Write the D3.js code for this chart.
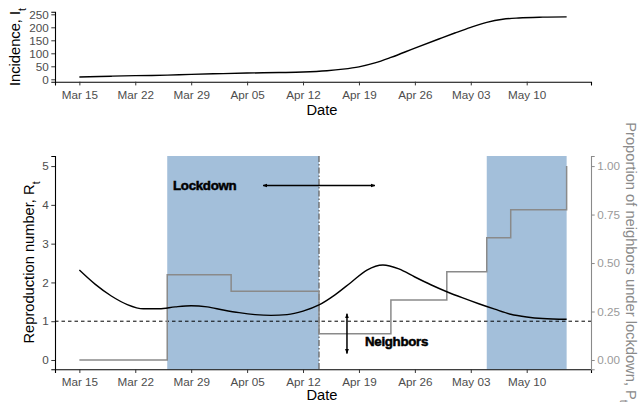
<!DOCTYPE html>
<html><head><meta charset="utf-8">
<script src="https://cdn.jsdelivr.net/npm/d3@7"></script>
<style>body{margin:0;background:#fff}svg{display:block;font-family:"Liberation Sans",Arial,sans-serif}</style>
</head><body>
<svg id="c" width="639" height="402"></svg>
<script>
// ---- data ----
const incDates = ["2020-03-15","2020-03-19","2020-03-22","2020-03-26","2020-03-29","2020-04-02","2020-04-05","2020-04-09","2020-04-12","2020-04-15","2020-04-17","2020-04-19","2020-04-21","2020-04-23","2020-04-26","2020-04-29","2020-05-01","2020-05-03","2020-05-05","2020-05-07","2020-05-09","2020-05-12","2020-05-15"];
const incValues = [9,12,14,16,19,22,24,26,28,33,39,48,63,84,120,155,178,200,219,231,236,239,240];
const rDates = ["2020-03-15","2020-03-17","2020-03-19","2020-03-21","2020-03-23","2020-03-25","2020-03-27","2020-03-29","2020-03-31","2020-04-02","2020-04-04","2020-04-06","2020-04-08","2020-04-10","2020-04-12","2020-04-14","2020-04-16","2020-04-18","2020-04-20","2020-04-22","2020-04-24","2020-04-26","2020-04-28","2020-04-30","2020-05-02","2020-05-04","2020-05-06","2020-05-08","2020-05-10","2020-05-12","2020-05-15"];
const rValues = [2.32,1.95,1.65,1.43,1.32,1.32,1.37,1.40,1.37,1.29,1.22,1.17,1.15,1.17,1.26,1.42,1.68,2.0,2.32,2.45,2.35,2.14,1.94,1.76,1.60,1.45,1.31,1.18,1.11,1.07,1.05];
const propDates = ["2020-03-15","2020-03-26","2020-04-03","2020-04-14","2020-04-23","2020-04-30","2020-05-05","2020-05-08","2020-05-15"];
const propValues = [0,0.44,0.355,0.135,0.31,0.455,0.63,0.775,1.0];
const lockStart = ["2020-03-26","2020-05-05"];
const lockEnd = ["2020-04-14","2020-05-15"];
const vlineDate = "2020-04-14";
const tickDates = ["2020-03-15","2020-03-22","2020-03-29","2020-04-05","2020-04-12","2020-04-19","2020-04-26","2020-05-03","2020-05-10"];
const incTicks = [0,50,100,150,200,250];
const rTicks = [0,1,2,3,4,5];
const pTicks = [0,0.25,0.5,0.75,1.0];

const P = d3.utcParse("%Y-%m-%d");
const svg = d3.select("#c");
const blue = "#a3bfda";
const fmt = d3.utcFormat("%b %d");

const d0 = P("2020-03-15"), d1 = P("2020-05-15");
const pad = (d1 - d0) * 0.05;
const x = d3.scaleUtc().domain([new Date(+d0 - pad), new Date(+d1 + pad)]).range([55, 591]);

// ---------- top panel ----------
const yI = d3.scaleLinear().domain([-9.2, 260]).range([81.7, 11.7]);
const topG = svg.append("g");
const incData = incDates.map((d,i)=>({d:P(d),v:incValues[i]}));
topG.append("path").datum(incData)
  .attr("fill","none").attr("stroke","#000").attr("stroke-width",1.4)
  .attr("d", d3.line().x(d=>x(d.d)).y(d=>yI(d.v)).curve(d3.curveMonotoneX));

function styleAxis(g, tickColor, textColor, lineColor){
  g.select(".domain").attr("stroke", lineColor).attr("stroke-width",1.1);
  g.selectAll(".tick line").attr("stroke", tickColor).attr("stroke-width",1);
  g.selectAll(".tick text").attr("fill", textColor).style("font-size","11.7px").style("font-family","'Liberation Sans',Arial,sans-serif");
}
const xaT = topG.append("g").attr("transform","translate(0,81.7)")
  .call(d3.axisBottom(x).tickValues(tickDates.map(P)).tickFormat(fmt).tickSizeOuter(0).tickSize(3.7).tickPadding(5));
styleAxis(xaT,"#333","#4d4d4d","#000");
const yaT = topG.append("g").attr("transform","translate(55,0)")
  .call(d3.axisLeft(yI).tickValues(incTicks).tickSizeOuter(0).tickSize(3.7).tickPadding(2.5));
styleAxis(yaT,"#333","#4d4d4d","#000");

function title(g, x0, y0, rot, main, sub, color, anchor){
  const t = g.append("text").attr("transform",`translate(${x0},${y0}) rotate(${rot})`)
    .attr("text-anchor", anchor||"middle").attr("fill", color||"#000").style("font-size","14.7px");
  t.append("tspan").text(main);
  if (sub) t.append("tspan").attr("baseline-shift","sub").style("font-size","10.5px").text(sub);
  return t;
}
title(topG, 322, 114.5, 0, "Date");
title(topG, 20, 47, -90, "Incidence, I", "t");

// ---------- bottom panel ----------
const yR = d3.scaleLinear().domain([-0.24, 5.26]).range([369.3, 156]);
const yP = d3.scaleLinear().domain([-0.048, 1.052]).range([369.3, 156]);
const bot = svg.append("g");
lockStart.forEach((s,i)=>{
  bot.append("rect").attr("x", x(P(s))).attr("y",156)
    .attr("width", x(P(lockEnd[i])) - x(P(s))).attr("height", 369.3-156).attr("fill", blue);
});
// vertical dash-dot line
bot.append("line").attr("x1",x(P(vlineDate))).attr("x2",x(P(vlineDate))).attr("y1",156).attr("y2",369.3)
  .attr("stroke","#666").attr("stroke-width",1.3).attr("stroke-dasharray","6,2,1.5,2");
// R=1 line
bot.append("line").attr("x1",55).attr("x2",591).attr("y1",yR(1)).attr("y2",yR(1))
  .attr("stroke","#000").attr("stroke-width",1).attr("stroke-dasharray","3.5,3");
// proportion step
const propData = propDates.map((d,i)=>({d:P(d),v:propValues[i]}));
bot.append("path").datum(propData).attr("fill","none").attr("stroke","#8a8a8a").attr("stroke-width",1.5)
  .attr("d", d3.line().x(d=>x(d.d)).y(d=>yP(d.v)).curve(d3.curveStepAfter));
// R curve
const rData = rDates.map((d,i)=>({d:P(d),v:rValues[i]}));
bot.append("path").datum(rData).attr("fill","none").attr("stroke","#000").attr("stroke-width",1.4)
  .attr("d", d3.line().x(d=>x(d.d)).y(d=>yR(d.v)).curve(d3.curveMonotoneX));

// axes
const xaB = bot.append("g").attr("transform","translate(0,369.3)")
  .call(d3.axisBottom(x).tickValues(tickDates.map(P)).tickFormat(fmt).tickSizeOuter(0).tickSize(3.7).tickPadding(5));
styleAxis(xaB,"#333","#4d4d4d","#000");
const yaB = bot.append("g").attr("transform","translate(55,0)")
  .call(d3.axisLeft(yR).tickValues(rTicks).tickFormat(d3.format("d")).tickSizeOuter(0).tickSize(3.7).tickPadding(2.5));
styleAxis(yaB,"#333","#4d4d4d","#000");
const yaP = bot.append("g").attr("transform","translate(591,0)")
  .call(d3.axisRight(yP).tickValues(pTicks).tickFormat(d3.format(".2f")).tickSizeOuter(0).tickSize(3.7).tickPadding(2.5));
styleAxis(yaP,"#8a8a8a","#9a9a9a","#8a8a8a");

title(bot, 322, 399.5, 0, "Date");
title(bot, 34, 262.5, -90, "Reproduction number, R", "t");
title(bot, 626, 262.5, 90, "Proportion of neighbors under lockdown, P", "t", "#8a8a8a");

// annotations
const defs = svg.append("defs");
defs.append("marker").attr("id","ah").attr("viewBox","0 0 10 10").attr("refX",9).attr("refY",5)
  .attr("markerWidth",3.2).attr("markerHeight",3.2).attr("orient","auto-start-reverse")
  .append("path").attr("d","M0,1 L10,5 L0,9 z").attr("fill","#000");
const lockArrow = {from:"2020-04-07", to:"2020-04-21", r:4.5};
bot.append("line").attr("x1",x(P(lockArrow.from))).attr("x2",x(P(lockArrow.to)))
  .attr("y1",yR(lockArrow.r)).attr("y2",yR(lockArrow.r))
  .attr("stroke","#000").attr("stroke-width",1.5).attr("marker-start","url(#ah)").attr("marker-end","url(#ah)");
const nbArrow = {d:"2020-04-17", from:0.17, to:1.19};
const nbX = x(P(nbArrow.d)) + 4;
bot.append("line").attr("x1",nbX).attr("x2",nbX).attr("y1",yR(nbArrow.from)).attr("y2",yR(nbArrow.to))
  .attr("stroke","#000").attr("stroke-width",1.5).attr("marker-start","url(#ah)").attr("marker-end","url(#ah)");
bot.append("text").attr("x",173).attr("y",yR(4.5)+4.6).style("font-size","13.3px").style("font-weight","bold")
  .attr("fill","#000").attr("stroke","#000").attr("stroke-width",0.5).attr("letter-spacing","-0.3").text("Lockdown");
bot.append("text").attr("x",365).attr("y",yR(0.47)+4.6).style("font-size","13.3px").style("font-weight","bold")
  .attr("fill","#000").attr("stroke","#000").attr("stroke-width",0.5).attr("letter-spacing","-0.3").text("Neighbors");
</script>
</body></html>
